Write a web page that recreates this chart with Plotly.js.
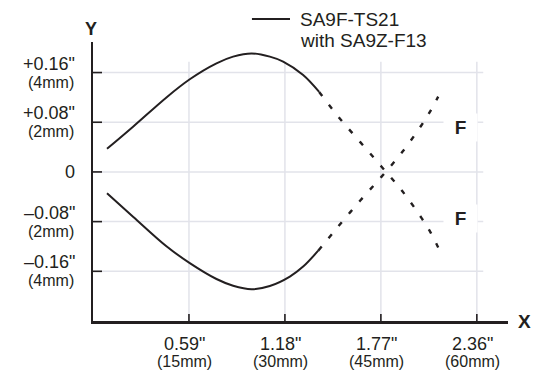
<!DOCTYPE html>
<html>
<head>
<meta charset="utf-8">
<script src="https://cdn.plot.ly/plotly-3.0.1.min.js"></script>
<style>
  html, body { margin: 0; padding: 0; background: #fff; }
  #chart { width: 547px; height: 374px; }
</style>
</head>
<body>
<div id="chart"></div>
<script>
// ---- Data (x in mm, y in mm) ----
const upperSolidX = [2.19, 6.26, 11.48, 15.13, 19.30, 21.90, 24.78, 27.64, 29.72, 32.85, 35.35];
const upperSolidY = [0.93, 1.82, 3.00, 3.73, 4.37, 4.64, 4.77, 4.64, 4.44, 3.90, 3.22];
const upperDashX  = [35.35, 38.32, 41.71, 45.11, 48.40, 51.37, 52.78, 53.96];
const upperDashY  = [3.22, 2.23, 1.22, 0.21, -0.79, -1.86, -2.44, -3.04];
const lowerSolidX = [2.19, 6.26, 11.48, 15.13, 19.30, 21.90, 24.78, 27.64, 30.77, 32.85, 35.20];
const lowerSolidY = [-0.86, -1.80, -2.99, -3.67, -4.31, -4.58, -4.72, -4.59, -4.21, -3.81, -3.17];
const lowerDashX  = [35.20, 38.32, 41.71, 45.11, 48.40, 51.37, 52.78, 53.96];
const lowerDashY  = [-3.17, -2.20, -1.17, -0.19, 0.82, 1.89, 2.47, 3.03];

const xTickVals = [15, 30, 45, 60];
const xTickMain = ['0.59"', '1.18"', '1.77"', '2.36"'];
const xTickSub  = ['(15mm)', '(30mm)', '(45mm)', '(60mm)'];
const yTickVals = [4, 2, 0, -2, -4];
const yTickMain = ['+0.16"', '+0.08"', '0', '\u20130.08"', '\u20130.16"'];
const yTickSub  = ['(4mm)', '(2mm)', '', '(2mm)', '(4mm)'];

const legendLines = ['SA9F-TS21', 'with SA9Z-F13'];
const forceLabelX = [57.5, 57.5];
const forceLabelY = [1.78, -1.88];
const forceLabelText = ['F', 'F'];

// ---- Style ----
const INK = '#231f20';
const GRID = '#e2e3ea';
const FONT = '"Liberation Sans", Arial, Helvetica, sans-serif';
const xRange = [0, 64.87];
const yRange = [-6.0, 5.23];
const gridXMax = 61.0;
const gridYMax = 4.44;

const lineStyle = {color: INK, width: 2, shape: 'spline', smoothing: 1.0};
const dashStyle = Object.assign({}, lineStyle, {dash: '5px,11px', width: 2.4});
const traces = [
  {x: upperSolidX, y: upperSolidY, mode: 'lines', line: lineStyle, hoverinfo: 'skip'},
  {x: upperDashX, y: upperDashY, mode: 'lines', line: dashStyle, hoverinfo: 'skip'},
  {x: lowerSolidX, y: lowerSolidY, mode: 'lines', line: lineStyle, hoverinfo: 'skip'},
  {x: lowerDashX, y: lowerDashY, mode: 'lines', line: dashStyle, hoverinfo: 'skip'}
];

const shapes = [];
// gridlines
xTickVals.forEach(v => shapes.push({type: 'line', layer: 'below', xref: 'x', yref: 'y',
  x0: v, x1: v, y0: yRange[0], y1: gridYMax, line: {color: GRID, width: 1.5}}));
yTickVals.forEach(v => shapes.push({type: 'line', layer: 'below', xref: 'x', yref: 'y',
  x0: 0, x1: gridXMax, y0: v, y1: v, line: {color: GRID, width: 1.5}}));
// cross ticks
xTickVals.forEach(v => shapes.push({type: 'line', xref: 'x', yref: 'y', ysizemode: 'pixel', yanchor: yRange[0],
  x0: v, x1: v, y0: -7, y1: 7, line: {color: INK, width: 1.6}}));
yTickVals.forEach(v => shapes.push({type: 'line', xref: 'x', yref: 'y', xsizemode: 'pixel', xanchor: 0,
  y0: v, y1: v, x0: -8, x1: 9, line: {color: INK, width: 1.6}}));
// legend line
shapes.push({type: 'line', xref: 'paper', yref: 'paper', x0: 0.383, x1: 0.4747, y0: 1.0824, y1: 1.0824,
  line: {color: INK, width: 2}});

const annotations = [];
// y tick labels
yTickVals.forEach((v, i) => {
  const hasSub = !!yTickSub[i];
  annotations.push({xref: 'paper', yref: 'y', x: 0, y: v, xanchor: 'right', yanchor: 'middle',
    xshift: -16, yshift: hasSub ? 9 : 0, text: yTickMain[i], showarrow: false,
    font: {family: FONT, size: 18, color: INK}});
  if (hasSub) annotations.push({xref: 'paper', yref: 'y', x: 0, y: v, xanchor: 'right', yanchor: 'middle',
    xshift: -17, yshift: -9.5, text: yTickSub[i], showarrow: false,
    font: {family: FONT, size: 16, color: INK}});
});
// x tick labels
xTickVals.forEach((v, i) => {
  annotations.push({xref: 'x', yref: 'paper', x: v, y: 0, xanchor: 'center', yanchor: 'middle',
    xshift: -4, yshift: -22.5, text: xTickMain[i], showarrow: false,
    font: {family: FONT, size: 18, color: INK}});
  annotations.push({xref: 'x', yref: 'paper', x: v, y: 0, xanchor: 'center', yanchor: 'middle',
    xshift: -4, yshift: -40.5, text: xTickSub[i], showarrow: false,
    font: {family: FONT, size: 16, color: INK}});
});
// legend text
legendLines.forEach((t, i) => annotations.push({xref: 'paper', yref: 'paper', x: 0.494, y: 1.0824,
  yshift: -21 * i, xanchor: 'left', yanchor: 'middle', align: 'left',
  text: t, showarrow: false, font: {family: FONT, size: 19, color: INK}}));
// axis titles
annotations.push({xref: 'paper', yref: 'paper', x: -0.004, y: 1.045, xanchor: 'center', yanchor: 'middle',
  text: '<b>Y</b>', showarrow: false, font: {family: FONT, size: 18, color: INK}});
annotations.push({xref: 'paper', yref: 'paper', x: 1.039, y: 0.0, xanchor: 'center', yanchor: 'middle',
  text: '<b>X</b>', showarrow: false, font: {family: FONT, size: 19, color: INK}});
// F labels
forceLabelX.forEach((fx, i) => annotations.push({xref: 'x', yref: 'y', x: fx, y: forceLabelY[i],
  text: '<b>' + forceLabelText[i] + '</b>', showarrow: false, bgcolor: '#ffffff', width: 31, height: 25,
  xanchor: 'center', yanchor: 'middle', font: {family: FONT, size: 19, color: INK}}));

const layout = {
  width: 547, height: 374,
  margin: {l: 93, r: 39, t: 42, b: 53, pad: 0},
  paper_bgcolor: '#ffffff', plot_bgcolor: '#ffffff',
  showlegend: false,
  font: {family: FONT, size: 16, color: INK},
  xaxis: {range: xRange, showgrid: false, zeroline: false, showline: true, linecolor: INK, linewidth: 2.5,
    tickmode: 'array', tickvals: xTickVals, showticklabels: false, ticks: '', fixedrange: true},
  yaxis: {range: yRange, showgrid: false, zeroline: false, showline: true, linecolor: INK, linewidth: 2.5,
    tickmode: 'array', tickvals: yTickVals, showticklabels: false, ticks: '', fixedrange: true},
  shapes: shapes,
  annotations: annotations
};

Plotly.newPlot('chart', traces, layout, {staticPlot: true, displayModeBar: false});
</script>
</body>
</html>
